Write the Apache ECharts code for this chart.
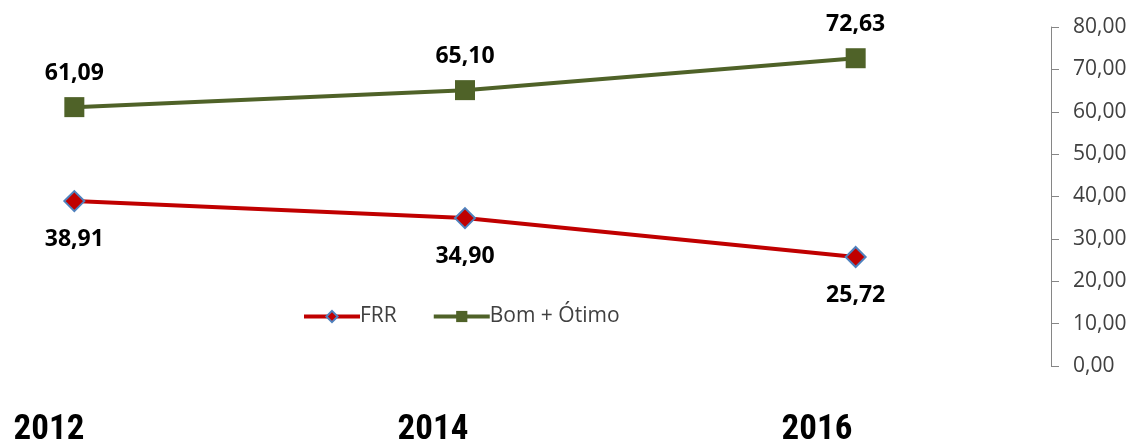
<!DOCTYPE html>
<html>
<head>
<meta charset="utf-8">
<script src="https://cdn.jsdelivr.net/npm/echarts@6/dist/echarts.min.js"></script>
<style>
  html, body { margin: 0; padding: 0; background: #fff; }
  #chart { width: 1141px; height: 442px; }
</style>
</head>
<body>
<div id="chart"></div>
<script>
var categories = ['1', '2', '3'];
var years = ['2012', '2014', '2016'];
var frr = [38.91, 34.90, 25.72];
var bomOtimo = [61.09, 65.10, 72.63];
var yTicks = { min: 0, max: 80, interval: 10 };

function virgula(v) {
  return Number(v).toFixed(2).replace('.', ',');
}

(function() {
    // 1.实例化对象
    var myChart = echarts.init(document.getElementById('chart'));
    // 2.指定配置项和数据
    var option = {
        animation: false,
        legend: {
          left: 302,
          top: 306,
          padding: 0,
          itemWidth: 56,
          itemHeight: 14,
          itemGap: 35,
          lineStyle: { width: 4 },
          textStyle: {
            color: '#404040',
            fontSize: 21,
            fontFamily: 'Open Sans',
            padding: [0, 0, 0, -5]
          },
          data: ['FRR', 'Bom + Ótimo']
        },
        grid: [
          { left: -121, right: 90, top: 27, bottom: 76, outerBoundsMode: 'none' },
          { left: -143, right: 132, top: 27, bottom: 36, outerBoundsMode: 'none' }
        ],
        xAxis: [
          {
            type: 'category',
            gridIndex: 0,
            data: categories,
            axisLine: { show: false },
            axisTick: { show: false },
            axisLabel: { show: false }
          },
          {
            type: 'category',
            gridIndex: 1,
            data: years,
            axisLine: { show: false },
            axisTick: { show: false },
            axisLabel: {
              margin: 7,
              color: '#000',
              fontSize: 35,
              fontWeight: 'bold',
              fontFamily: 'Liberation Sans Narrow, Roboto Condensed, Open Sans, sans-serif'
            }
          }
        ],
        yAxis: [
          {
            type: 'value',
            gridIndex: 0,
            position: 'right',
            min: yTicks.min,
            max: yTicks.max,
            interval: yTicks.interval,
            splitLine: { show: false },
            axisLine: { show: true, lineStyle: { color: '#868686', width: 1 } },
            axisTick: { show: true, length: 8, lineStyle: { color: '#868686' } },
            axisLabel: {
              margin: 22,
              color: '#404040',
              fontSize: 21,
              fontFamily: 'Open Sans',
              formatter: virgula
            }
          },
          {
            type: 'value',
            gridIndex: 1,
            show: false
          }
        ],
        series: [
          {
            name: 'FRR',
            type: 'line',
            data: frr,
            symbol: 'diamond',
            symbolSize: 20,
            lineStyle: { color: '#c00000', width: 4 },
            itemStyle: { color: '#c00000', borderColor: '#4f81bd', borderWidth: 2 },
            label: {
              show: true,
              position: 'bottom',
              distance: 16,
              color: '#000',
              fontSize: 23,
              fontWeight: 'bold',
              fontFamily: 'Open Sans',
              formatter: function(p) { return virgula(p.value); }
            }
          },
          {
            name: 'Bom + Ótimo',
            type: 'line',
            data: bomOtimo,
            symbol: 'rect',
            symbolSize: 20,
            lineStyle: { color: '#4f6228', width: 4 },
            itemStyle: { color: '#4f6228' },
            label: {
              show: true,
              position: 'top',
              distance: 12,
              color: '#000',
              fontSize: 23,
              fontWeight: 'bold',
              fontFamily: 'Open Sans',
              formatter: function(p) { return virgula(p.value); }
            }
          }
        ]
      };
      // 3.把配置项给实例对象
      myChart.setOption(option);
})();
</script>
</body>
</html>
